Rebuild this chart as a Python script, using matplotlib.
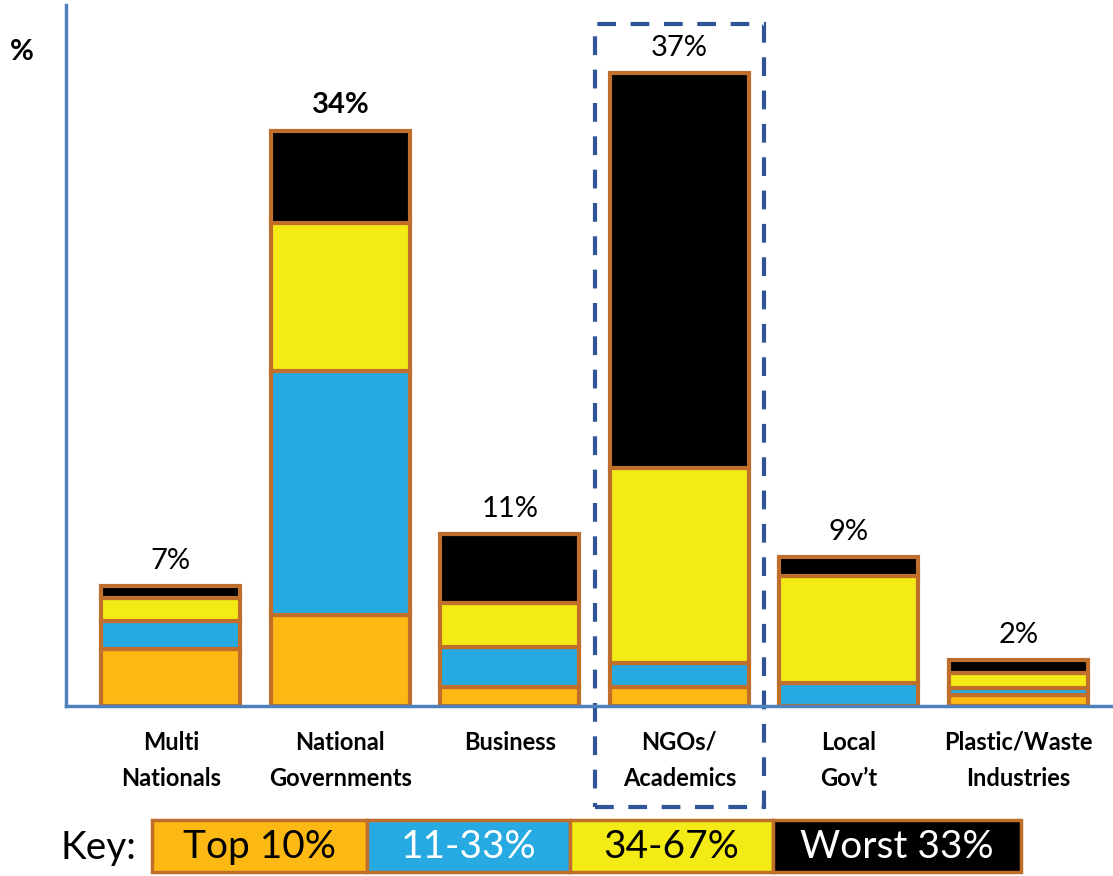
import numpy as np
import matplotlib
matplotlib.use("Agg")
import matplotlib.pyplot as plt
from matplotlib.patches import Rectangle

plt.rcParams['font.family'] = ['Lato', 'DejaVu Sans']

categories = ["Multi\nNationals", "National\nGovernments", "Business",
              "NGOs/\nAcademics", "Local\nGov\u2019t", "Plastic/Waste\nIndustries"]
totals = ["7%", "34%", "11%", "37%", "9%", "2%"]

# segment heights (in % units)
top10 = [3.35, 5.35, 1.1, 1.1, 0.0, 0.65]
mid11_33 = [1.65, 14.35, 2.35, 1.4, 1.35, 0.4]
mid34_67 = [1.35, 8.7, 2.6, 11.5, 6.3, 0.9]
worst33 = [0.7, 5.4, 4.05, 23.2, 1.1, 0.75]

key_labels = ["Top 10%", "11-33%", "34-67%", "Worst 33%"]
key_colors = ["#FDB913", "#27AAE1", "#F4EB16", "#000000"]
key_text = ["black", "white", "black", "white"]

edge = "#BF6E2C"
axis_blue = "#4F81BD"

fig = plt.figure(figsize=(11.13, 8.76), dpi=100)
ax = fig.add_axes([66/1113, 170/876, 1047/1113, 701/876])

x = np.arange(len(categories))
w = 0.82
bottom = np.zeros(len(categories))
for vals, col in zip([top10, mid11_33, mid34_67, worst33], key_colors):
    vals = np.array(vals)
    ax.bar(x, vals, w, bottom=bottom, color=col, edgecolor=edge, linewidth=3)
    bottom += vals

for i, t in enumerate(totals):
    ax.annotate(t, (x[i], bottom[i]), xytext=(0, 9), textcoords="offset points",
                ha="center", va="bottom", fontsize=21,
                fontweight="bold" if t == "34%" else "normal")

ax.set_xlim(-0.619, 5.558)
ax.set_ylim(0, 41.2)
ax.set_yticks([])
ax.set_xticks(x)
ax.set_xticklabels(categories, fontsize=17, fontweight="bold", linespacing=1.7)
ax.tick_params(axis="x", length=0, pad=18)
for s in ["top", "right"]:
    ax.spines[s].set_visible(False)
for s in ["left", "bottom"]:
    ax.spines[s].set_color(axis_blue)
    ax.spines[s].set_linewidth(2.5)

fig.text(10/1113, 1 - 52/876, "%", fontsize=21, fontweight="bold", ha="left", va="center")

# dashed box around NGOs
ngo = 3
ax.add_patch(Rectangle((ngo - 0.50, -5.94), 1.0, 46.0, fill=False, edgecolor="#2F5597",
                       linestyle=(0, (4.5, 3.5)), linewidth=3, clip_on=False))

# key
fig.text(60/1113, 1 - 848/876, "Key:", fontsize=28, ha="left", va="center")
kx = [152, 367, 570, 773, 1021]
for i, lab in enumerate(key_labels):
    x0 = kx[i] / 1113
    wd = (kx[i + 1] - kx[i]) / 1113
    fig.patches.append(Rectangle((x0, 4/876), wd, 52/876, transform=fig.transFigure,
                                 facecolor=key_colors[i], edgecolor=edge, linewidth=2.5))
    fig.text(x0 + wd / 2, 1 - 847/876, lab, fontsize=28, color=key_text[i],
             ha="center", va="center")

fig.savefig("out.png", dpi=100)
